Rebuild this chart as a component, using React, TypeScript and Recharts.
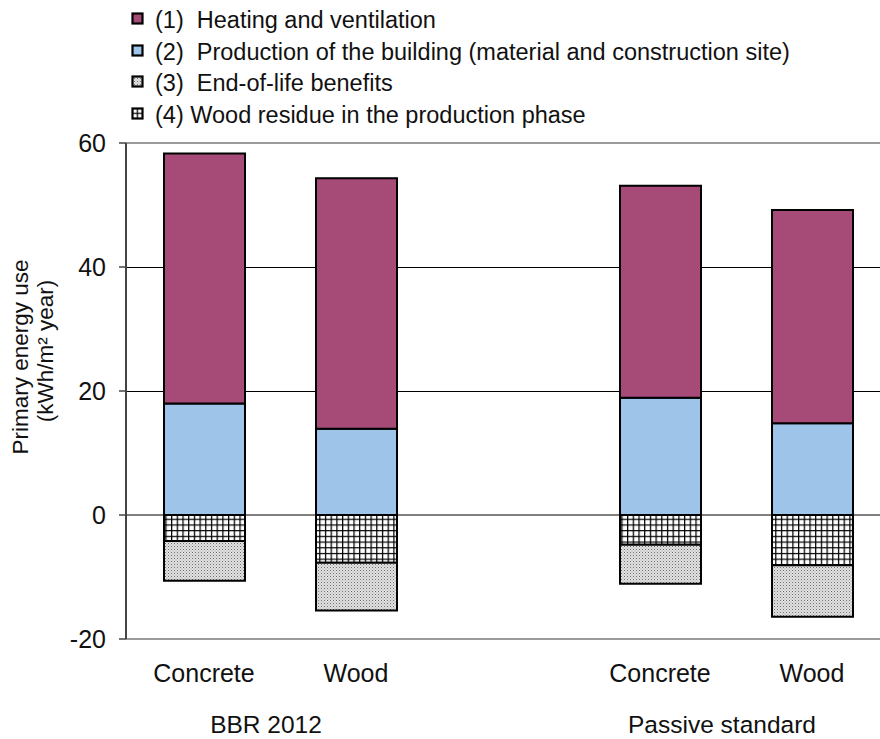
import { Bar, BarChart, CartesianGrid, XAxis, YAxis } from 'recharts'

// values (kWh/m² year)
const categories = ['Concrete', 'Wood', '', 'Concrete', 'Wood']
const groupLabels = ['', 'BBR 2012', '', '', 'Passive standard']
const heating = [40.3, 40.4, null, 34.2, 34.4]
const production = [18, 13.9, null, 18.9, 14.8]
const endOfLife = [-6.4, -7.7, null, -6.3, -8.3]
const woodResidue = [-4.2, -7.7, null, -4.8, -8.1]
const yTicks = [-20, 0, 20, 40, 60]

const legendItems = [
  { label: '(1)  Heating and ventilation', fill: '#a64a78' },
  { label: '(2)  Production of the building (material and construction site)', fill: '#9fc4ea' },
  { label: '(3)  End-of-life benefits', fill: 'url(#dots)' },
  { label: '(4) Wood residue in the production phase', fill: 'url(#grid)' },
]

const data = categories.map((name, i) => ({
  name,
  heating: heating[i],
  production: production[i],
  endOfLife: endOfLife[i],
  woodResidue: woodResidue[i],
}))

const FONT = '"Liberation Sans", Arial, sans-serif'
const TOP = 143
const PLOT_H = 496
const Y_MIN = -20
const Y_MAX = 60

const yOf = (v: number) => TOP + (PLOT_H * (Y_MAX - v)) / (Y_MAX - Y_MIN)

function GridLine(props: any) {
  const { x1, x2, y1, y2 } = props
  const isBorder = Math.abs(y1 - yOf(Y_MAX)) < 1.5 || Math.abs(y1 - yOf(Y_MIN)) < 1.5
  const isZero = Math.abs(y1 - yOf(0)) < 1.5
  return (
    <line
      x1={x1}
      x2={x2}
      y1={y1}
      y2={y2}
      stroke={isBorder ? '#9a9a9a' : isZero ? '#555' : '#000'}
      strokeWidth={isBorder ? 2.2 : isZero ? 1.6 : 1}
      shapeRendering={isBorder || isZero ? undefined : 'crispEdges'}
    />
  )
}

function CategoryTick(props: any) {
  const { x, payload, index } = props
  const group = groupLabels[index]
  const base = TOP + PLOT_H
  return (
    <g fontFamily={FONT} fontSize={25} fill="#111">
      <text x={x} y={base + 43} textAnchor="middle">
        {payload.value}
      </text>
      {group && (
        <text x={x - 90} y={base + 94} textAnchor="middle" fontSize={24.5}>
          {group}
        </text>
      )}
    </g>
  )
}

function YLabel() {
  const cy = 357
  return (
    <g fontFamily={FONT} fontSize={22.5} fill="#111" textAnchor="middle">
      <text x={28} y={cy} transform={`rotate(-90, 28, ${cy})`}>
        Primary energy use
      </text>
      <text x={53} y={cy - 6} transform={`rotate(-90, 53, ${cy - 6})`}>
        (kWh/m² year)
      </text>
    </g>
  )
}

function Patterns() {
  return (
    <svg width={0} height={0} style={{ position: 'absolute' }}>
      <defs>
        <pattern id="grid" width={5.7} height={5.7} patternUnits="userSpaceOnUse">
          <rect width={5.7} height={5.7} fill="#fff" />
          <path d="M0 0.6H5.7M0.6 0V5.7" stroke="#000" strokeWidth={1.3} />
        </pattern>
        <pattern id="dots" width={3} height={3} patternUnits="userSpaceOnUse">
          <rect width={3} height={3} fill="#e2e2e2" />
          <rect width={1} height={1} fill="#6e6e6e" />
          <rect x={1.5} y={1.5} width={1} height={1} fill="#9a9a9a" />
        </pattern>
      </defs>
    </svg>
  )
}

function LegendBox() {
  return (
    <div style={{ position: 'absolute', left: 0, top: 0, fontFamily: FONT, fontSize: 23.5, color: '#111' }}>
      {legendItems.map((item, i) => {
        const baseline = 28 + i * 31.7
        return (
          <div key={item.label}>
            <svg
              width={14}
              height={14}
              style={{ position: 'absolute', left: 131, top: baseline - 16 }}
            >
              <rect x={1.5} y={1.5} width={10} height={10} fill={item.fill} stroke="#000" strokeWidth={2.2} />
            </svg>
            <span
              style={{
                position: 'absolute',
                left: 155,
                top: baseline - 21,
                whiteSpace: 'pre',
                lineHeight: '26px',
              }}
            >
              {item.label}
            </span>
          </div>
        )
      })}
    </div>
  )
}

export default function App() {
  return (
    <div
      style={{
        position: 'absolute',
        left: 0,
        top: 0,
        width: 880,
        height: 739,
        overflow: 'hidden',
        background: '#fff',
      }}
    >
      <Patterns />
      <BarChart
        width={900}
        height={739}
        data={data}
        stackOffset="sign"
        margin={{ top: TOP, right: 12, left: 0, bottom: 0 }}
      >
        <CartesianGrid vertical={false} horizontal={GridLine} />
        <XAxis
          dataKey="name"
          height={100}
          axisLine={false}
          tickLine={false}
          interval={0}
          padding={{ left: 2, right: 0 }}
          tick={<CategoryTick />}
        />
        <YAxis
          width={126}
          domain={[Y_MIN, Y_MAX]}
          ticks={yTicks}
          interval={0}
          allowDataOverflow
          axisLine={{ stroke: '#444', strokeWidth: 2 }}
          tickLine={{ stroke: '#444', strokeWidth: 1.5 }}
          tickSize={7}
          tickMargin={13}
          tick={{ fontFamily: FONT, fontSize: 25, fill: '#111' }}
          label={<YLabel />}
        />
        <Bar dataKey="production" stackId="a" barSize={81} fill="#9fc4ea" stroke="#000" strokeWidth={2} isAnimationActive={false} />
        <Bar dataKey="heating" stackId="a" barSize={81} fill="#a64a78" stroke="#000" strokeWidth={2} isAnimationActive={false} />
        <Bar dataKey="woodResidue" stackId="a" barSize={81} fill="url(#grid)" stroke="#000" strokeWidth={2} isAnimationActive={false} />
        <Bar dataKey="endOfLife" stackId="a" barSize={81} fill="url(#dots)" stroke="#000" strokeWidth={2} isAnimationActive={false} />
      </BarChart>
      <LegendBox />
    </div>
  )
}
